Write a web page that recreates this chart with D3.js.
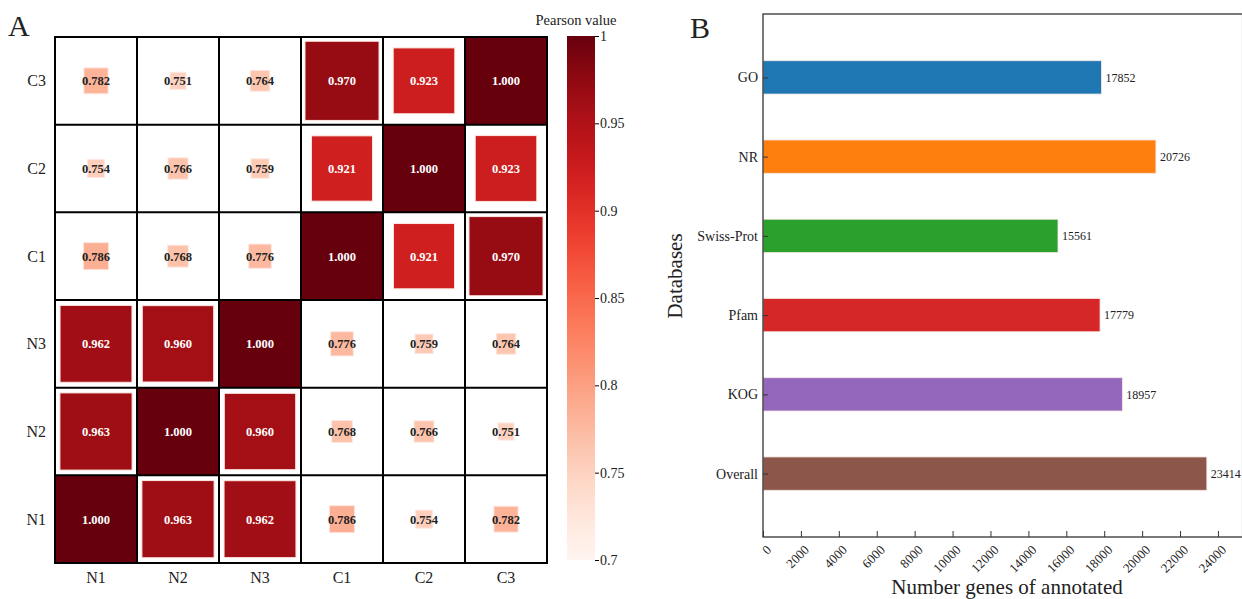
<!DOCTYPE html>
<html>
<head>
<meta charset="utf-8">
<script src="https://cdn.jsdelivr.net/npm/d3@7"></script>
<style>
  body { margin: 0; background: #fff; }
  text { font-family: "Liberation Serif", "Times New Roman", serif; }
</style>
</head>
<body>
<svg id="chart" width="1242" height="599"></svg>
<script>
// Panel A: Pearson correlation matrix
const samples = ["N1", "N2", "N3", "C1", "C2", "C3"];
const pearson = [
  [1.000, 0.963, 0.962, 0.786, 0.754, 0.782],
  [0.963, 1.000, 0.960, 0.768, 0.766, 0.751],
  [0.962, 0.960, 1.000, 0.776, 0.759, 0.764],
  [0.786, 0.768, 0.776, 1.000, 0.921, 0.970],
  [0.754, 0.766, 0.759, 0.921, 1.000, 0.923],
  [0.782, 0.751, 0.764, 0.970, 0.923, 1.000]
];
const colorTicks = [0.7, 0.75, 0.8, 0.85, 0.9, 0.95, 1];

// Panel B: annotated genes per database
const databases = ["GO", "NR", "Swiss-Prot", "Pfam", "KOG", "Overall"];
const geneCounts = [17852, 20726, 15561, 17779, 18957, 23414];
const barColors = ["#1f77b4", "#ff7f0e", "#2ca02c", "#d62728", "#9467bd", "#8c564b"];
const countTicks = d3.range(0, 24001, 2000);

const svg = d3.select("#chart");

// ---------- heatmap ----------
const x = d3.scaleBand().domain(samples).range([55, 547]);
const y = d3.scaleBand().domain(samples).range([563, 37]);
const color = d3.scaleSequential(d3.interpolateReds).domain([0.7, 1]);
const sizeScale = d3.scaleLinear().domain([0.7, 1]).range([0.03, 1]).clamp(true);

const cells = [];
pearson.forEach((row, i) => row.forEach((v, j) => cells.push({r: samples[i], c: samples[j], v})));

const hm = svg.append("g");
hm.selectAll("rect.sq")
  .data(cells)
  .join("rect")
    .attr("class", "sq")
    .attr("x", d => x(d.c) + x.bandwidth() * (1 - sizeScale(d.v)) / 2)
    .attr("y", d => y(d.r) + y.bandwidth() * (1 - sizeScale(d.v)) / 2)
    .attr("width", d => x.bandwidth() * sizeScale(d.v))
    .attr("height", d => y.bandwidth() * sizeScale(d.v))
    .attr("fill", d => color(d.v))
    .attr("stroke", d => d.v < 1 ? "#fde6e0" : "none")
    .attr("stroke-width", 1);

hm.selectAll("text.val")
  .data(cells)
  .join("text")
    .attr("class", "val")
    .attr("x", d => x(d.c) + x.bandwidth() / 2)
    .attr("y", d => y(d.r) + y.bandwidth() / 2)
    .attr("dy", "0.35em")
    .attr("text-anchor", "middle")
    .attr("font-size", 12.5)
    .attr("font-weight", "bold")
    .attr("fill", d => d.v > 0.9 ? "#fff" : "#222")
    .text(d => d.v.toFixed(3));

// grid lines
hm.selectAll("line.vg")
  .data(d3.range(samples.length + 1))
  .join("line")
    .attr("x1", i => 55 + i * x.bandwidth())
    .attr("x2", i => 55 + i * x.bandwidth())
    .attr("y1", 37).attr("y2", 563)
    .attr("stroke", "#000").attr("stroke-width", 2);
hm.selectAll("line.hg")
  .data(d3.range(samples.length + 1))
  .join("line")
    .attr("y1", i => 37 + i * y.bandwidth())
    .attr("y2", i => 37 + i * y.bandwidth())
    .attr("x1", 54).attr("x2", 548)
    .attr("stroke", "#000").attr("stroke-width", 2);

// axis labels
hm.selectAll("text.xl")
  .data(samples)
  .join("text")
    .attr("x", d => x(d) + x.bandwidth() / 2)
    .attr("y", 583)
    .attr("text-anchor", "middle")
    .attr("font-size", 16)
    .attr("fill", "#222")
    .text(d => d);
hm.selectAll("text.yl")
  .data(samples)
  .join("text")
    .attr("x", 46)
    .attr("y", d => y(d) + y.bandwidth() / 2)
    .attr("dy", "0.35em")
    .attr("text-anchor", "end")
    .attr("font-size", 16)
    .attr("fill", "#222")
    .text(d => d);

svg.append("text").attr("x", 8).attr("y", 36).attr("font-size", 30).attr("fill", "#222").text("A");

// colorbar
const cb = d3.scaleLinear().domain([0.7, 1]).range([560, 36]);
const defs = svg.append("defs");
const grad = defs.append("linearGradient").attr("id", "reds")
  .attr("x1", 0).attr("y1", 1).attr("x2", 0).attr("y2", 0);
d3.range(0, 1.0001, 0.05).forEach(t => {
  grad.append("stop").attr("offset", t).attr("stop-color", color(0.7 + 0.3 * t));
});
svg.append("rect")
  .attr("x", 567).attr("y", cb(1)).attr("width", 28).attr("height", cb(0.7) - cb(1))
  .attr("fill", "url(#reds)");
const cbAxis = svg.append("g")
  .attr("transform", "translate(595,0)")
  .call(d3.axisRight(cb).tickValues(colorTicks).tickFormat(d3.format("")).tickSize(4).tickPadding(1));
cbAxis.select(".domain").remove();
cbAxis.selectAll("text").attr("font-size", 14).attr("fill", "#222")
  .style("font-family", "Liberation Serif, serif");
svg.append("text").attr("x", 576).attr("y", 25).attr("text-anchor", "middle")
  .attr("font-size", 14.5).attr("fill", "#222").text("Pearson value");

// ---------- bar chart ----------
const bx = d3.scaleLinear().domain([0, 25300]).range([763, 1242.6]);
const by = d3.scalePoint().domain(databases).range([14, 537]).padding(0.8);
const barH = by.step() * 0.42;

const bars = svg.append("g");
bars.selectAll("rect")
  .data(databases)
  .join("rect")
    .attr("x", bx(0))
    .attr("y", d => by(d) - barH / 2)
    .attr("width", (d, i) => bx(geneCounts[i]) - bx(0))
    .attr("height", barH)
    .attr("fill", (d, i) => barColors[i])
    .attr("stroke", "#f3e6e2").attr("stroke-width", 0.8);

bars.selectAll("text.cnt")
  .data(databases)
  .join("text")
    .attr("class", "cnt")
    .attr("x", (d, i) => bx(geneCounts[i]) + 4)
    .attr("y", d => by(d))
    .attr("dy", "0.35em")
    .attr("font-size", 12)
    .attr("fill", "#222")
    .text((d, i) => geneCounts[i]);

// frame
svg.append("rect")
  .attr("x", 763).attr("y", 14).attr("width", 1242.6 - 763).attr("height", 537 - 14)
  .attr("fill", "none").attr("stroke", "#333").attr("stroke-width", 1.3);

// x axis
const xAxis = svg.append("g")
  .attr("transform", "translate(0,537)")
  .call(d3.axisBottom(bx).tickValues(countTicks).tickFormat(d3.format("d")).tickSizeInner(-6).tickSizeOuter(0));
xAxis.select(".domain").remove();
xAxis.selectAll("line").attr("stroke", "#333");
xAxis.selectAll("text")
  .attr("font-size", 13).attr("fill", "#222")
  .style("font-family", "Liberation Serif, serif")
  .attr("text-anchor", "end")
  .attr("transform", "translate(2,7) rotate(-45)")
  .attr("x", 0).attr("y", 0).attr("dy", "0.71em");

// y axis labels
const yAxis = svg.append("g")
  .attr("transform", "translate(763,0)")
  .call(d3.axisLeft(by).tickSizeInner(-5).tickSizeOuter(0).tickPadding(5));
yAxis.select(".domain").remove();
yAxis.selectAll("line").attr("stroke", "#333");
yAxis.selectAll("text").attr("font-size", 14).attr("fill", "#222")
  .style("font-family", "Liberation Serif, serif");

svg.append("text")
  .attr("transform", "translate(682,276) rotate(-90)")
  .attr("text-anchor", "middle").attr("font-size", 21).attr("fill", "#222")
  .text("Databases");
svg.append("text")
  .attr("x", 1007).attr("y", 594)
  .attr("text-anchor", "middle").attr("font-size", 21).attr("fill", "#222")
  .text("Number genes of annotated");

svg.append("text").attr("x", 690).attr("y", 38).attr("font-size", 30).attr("fill", "#222").text("B");
</script>
</body>
</html>
